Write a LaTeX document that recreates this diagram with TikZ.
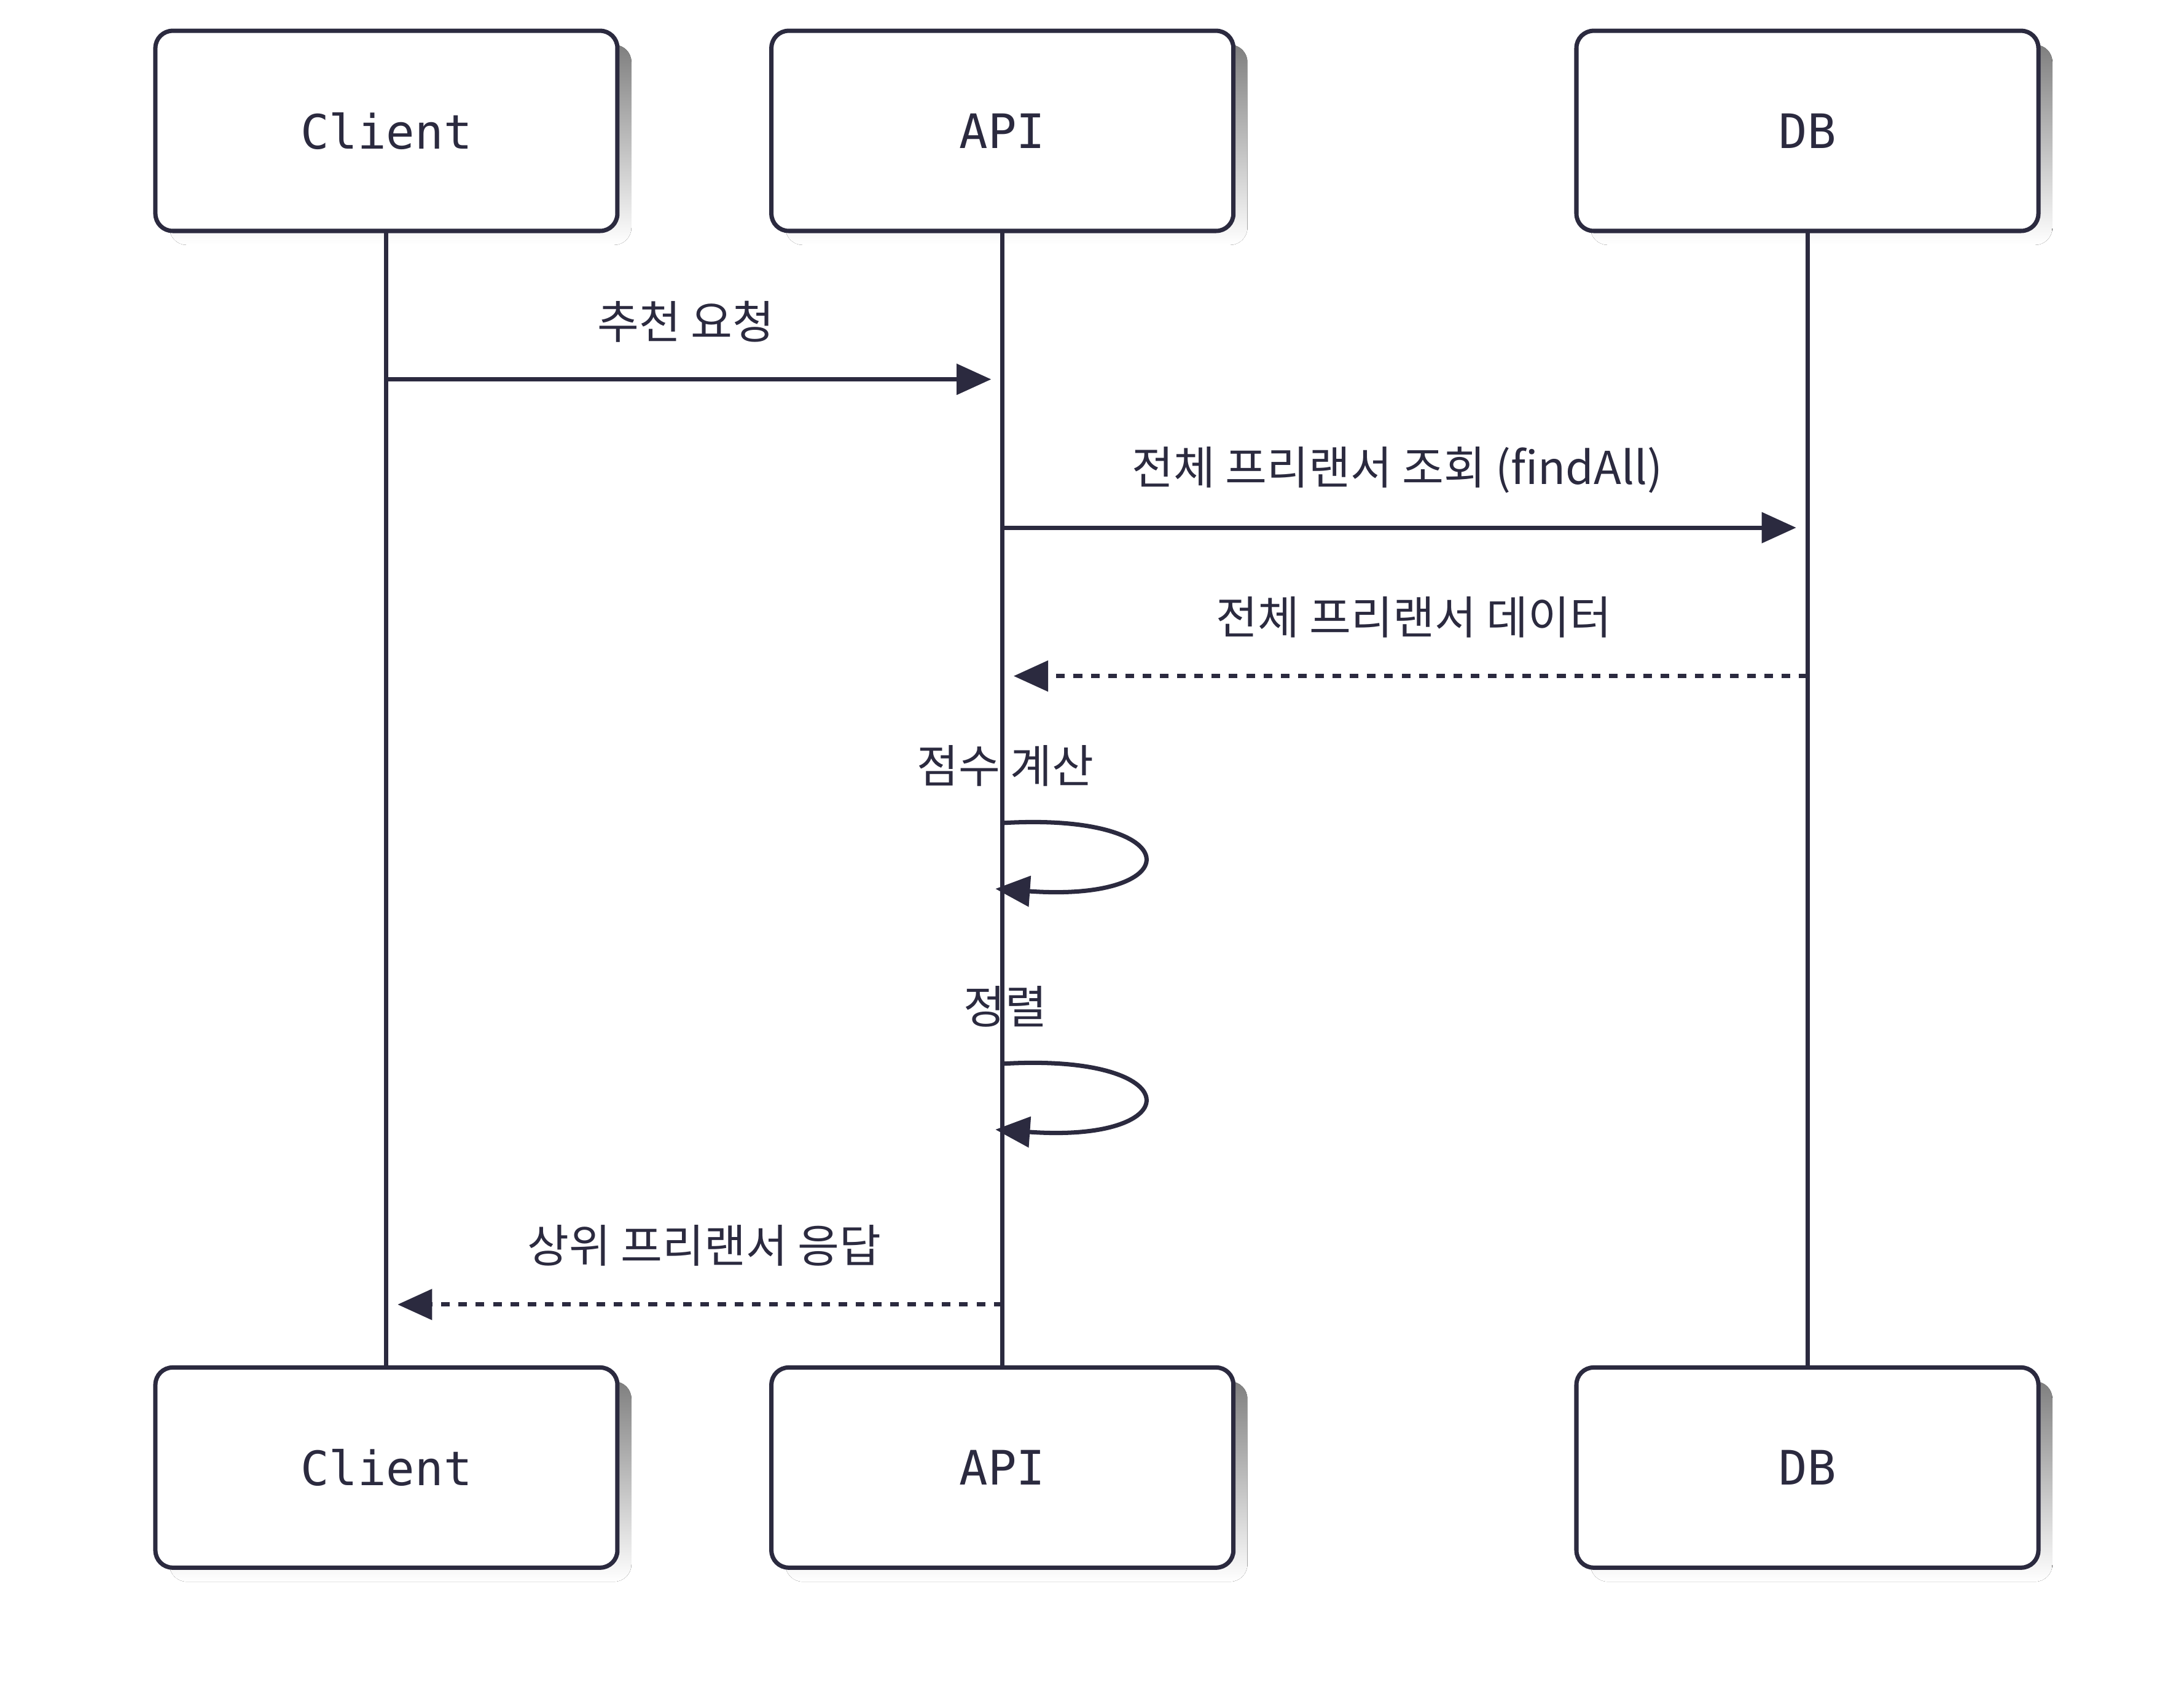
\documentclass[tikz,border=0pt]{standalone}
\usepackage{fontspec}
\setmainfont{DejaVu Sans Mono}
\newfontfamily\kr{Noto Sans CJK KR}
\usetikzlibrary{arrows.meta}
\definecolor{ink}{HTML}{2B2A3F}
\definecolor{shade}{HTML}{EFEFF1}
\begin{document}
\begin{tikzpicture}[x=0.02279cm,y=-0.02279cm,
  actor/.style={draw=ink,line width=2pt,rounded corners=8pt,fill=white,minimum width=330*0.02279cm,minimum height=143*0.02279cm,font=\fontsize{22}{26}\selectfont,text=ink},
  life/.style={draw=ink,line width=2pt},
  msg/.style={draw=ink,line width=2pt,-{Triangle[length=16pt,width=14pt]}},
  ret/.style={msg,dash pattern=on 4pt off 4pt},
  lbl/.style={font=\kr\fontsize{21}{25}\selectfont,text=ink}]
\useasboundingbox[fill=white] (0,0) rectangle (1560,1204.5);
\foreach \n/\x/\t in {c/276/Client,a/716/API,d/1291/DB}{
  \fill[shade,rounded corners=8pt] (\x-155,32) rectangle (\x+175,175);
  \fill[shade,rounded corners=8pt] (\x-155,987) rectangle (\x+175,1130);
  \draw[life] (\x,165) -- (\x,977);
  \node[actor] (\n t) at (\x,93.5) {\t};
  \node[actor] (\n b) at (\x,1048.5) {\t};
}
\coordinate (m1s) at (276,271); \coordinate (m1e) at (708,271);
\draw[msg] (m1s) -- (m1e);
\node[lbl] (l1) at (490,230) {추천 요청};
\coordinate (m2s) at (716,377); \coordinate (m2e) at (1283,377);
\draw[msg] (m2s) -- (m2e);
\node[lbl] (l2) at (998,336) {전체 프리랜서 조회 (findAll)};
\coordinate (m3s) at (1291,483); \coordinate (m3e) at (724,483);
\draw[ret] (m3s) -- (m3e);
\node[lbl] (l3) at (1010,441) {전체 프리랜서 데이터};
\node[lbl] (l4) at (718,547) {점수 계산};
\coordinate (s1) at (716,588); \coordinate (e1) at (711,635);
\draw[msg] (s1) .. controls (850,580) and (850,645) .. (e1);
\node[lbl] (l5) at (718,719) {정렬};
\coordinate (s2) at (716,760); \coordinate (e2) at (711,807);
\draw[msg] (s2) .. controls (850,752) and (850,817) .. (e2);
\coordinate (m6s) at (716,932); \coordinate (m6e) at (284,932);
\draw[ret] (m6s) -- (m6e);
\node[lbl] (l6) at (503,890) {상위 프리랜서 응답};
\end{tikzpicture}
\end{document}
